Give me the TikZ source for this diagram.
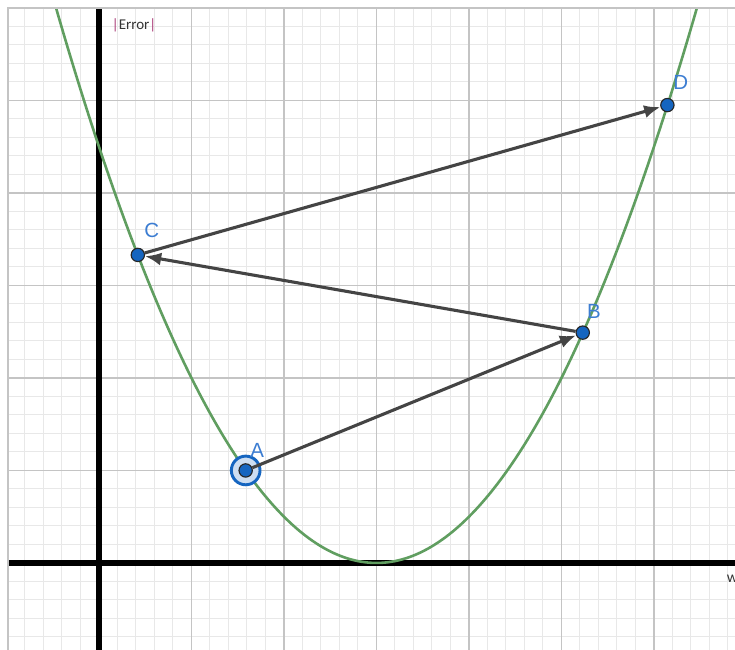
\documentclass[tikz,border=0pt]{standalone}
\usepackage{fontspec}
\setmainfont{Liberation Sans}
\newfontfamily\calib{Carlito}
\usetikzlibrary{arrows.meta}
\definecolor{ggblue}{RGB}{21,101,192}
\definecolor{lblblue}{RGB}{60,125,210}
\definecolor{curvegreen}{RGB}{96,158,96}
\definecolor{vecgray}{RGB}{68,68,68}
\definecolor{majorcol}{RGB}{196,196,196}
\definecolor{minorcol}{RGB}{232,232,232}
\definecolor{barcol}{RGB}{170,60,120}
\definecolor{halofill}{RGB}{205,222,242}
\tikzset{
  minorgrid/.style={draw=minorcol, line width=0.3pt},
  majorgrid/.style={draw=majorcol, line width=0.45pt},
  axisline/.style={draw=black, line width=1.8pt},
  curveline/.style={draw=curvegreen, line width=0.8pt},
  vec/.style={draw=vecgray, line width=0.95pt, -{Latex[length=5pt,width=4pt]}},
  pt/.style={circle, fill=ggblue, draw=black!85, line width=0.35pt, inner sep=0pt, minimum size=4.1pt},
  halo/.style={fill=halofill, draw=ggblue, line width=0.9pt},
  lbl/.style={text=lblblue, font=\fontsize{6.3}{7}\selectfont, inner sep=0pt},
  smalltxt/.style={text=black!80, font=\calib\fontsize{4.6}{5.2}\selectfont, inner sep=0pt}
}
\begin{document}
\begin{tikzpicture}[x=1cm,y=1cm]
\useasboundingbox (-1.070,-0.941) rectangle (6.876,6.086);
\fill[white] (-1.070,-0.941) rectangle (6.876,6.086);
\begin{scope}
  \clip (-0.984,-0.941) rectangle (6.876,6.0);
  \draw[minorgrid] (-1.2,-1.2) grid[step=0.2] (7.2,6.2);
  \draw[majorgrid] (-1,-1) grid[step=1] (7,6);
  \draw[axisline] (-1.1,0) -- (7,0);
  \draw[axisline] (0,-1) -- (0,6.1);
  \draw[curveline] plot[domain=-0.5:6.5, samples=120, smooth] (\x,{0.5*(\x-3)^2});
\end{scope}
\draw[majorcol, line width=0.45pt] (-0.984,-0.941) -- (-0.984,6.0) -- (6.876,6.0);
% halo around A
\draw[halo] (1.586,1) circle (0.155);
% points
\node[pt] (A) at (1.586,1) {};
\node[pt] (B) at (5.23,2.49) {};
\node[pt] (C) at (0.42,3.33) {};
\node[pt] (D) at (6.145,4.95) {};
% vectors
\draw[vec] (A) -- (B);
\draw[vec] (B) -- (C);
\draw[vec] (C) -- (D);
% labels
\node[lbl] (lA) at (1.71,1.22) {A};
\node[lbl] (lB) at (5.35,2.72) {B};
\node[lbl] (lC) at (0.57,3.59) {C};
\node[lbl] (lD) at (6.29,5.19) {D};
\node[smalltxt] (err) at (0.38,5.81) {\textcolor{barcol}{|}Error\textcolor{barcol}{|}};
\node[smalltxt, anchor=west, font=\calib\fontsize{4.8}{5.4}\selectfont] (w) at (6.78,-0.17) {w};
\end{tikzpicture}
\end{document}
